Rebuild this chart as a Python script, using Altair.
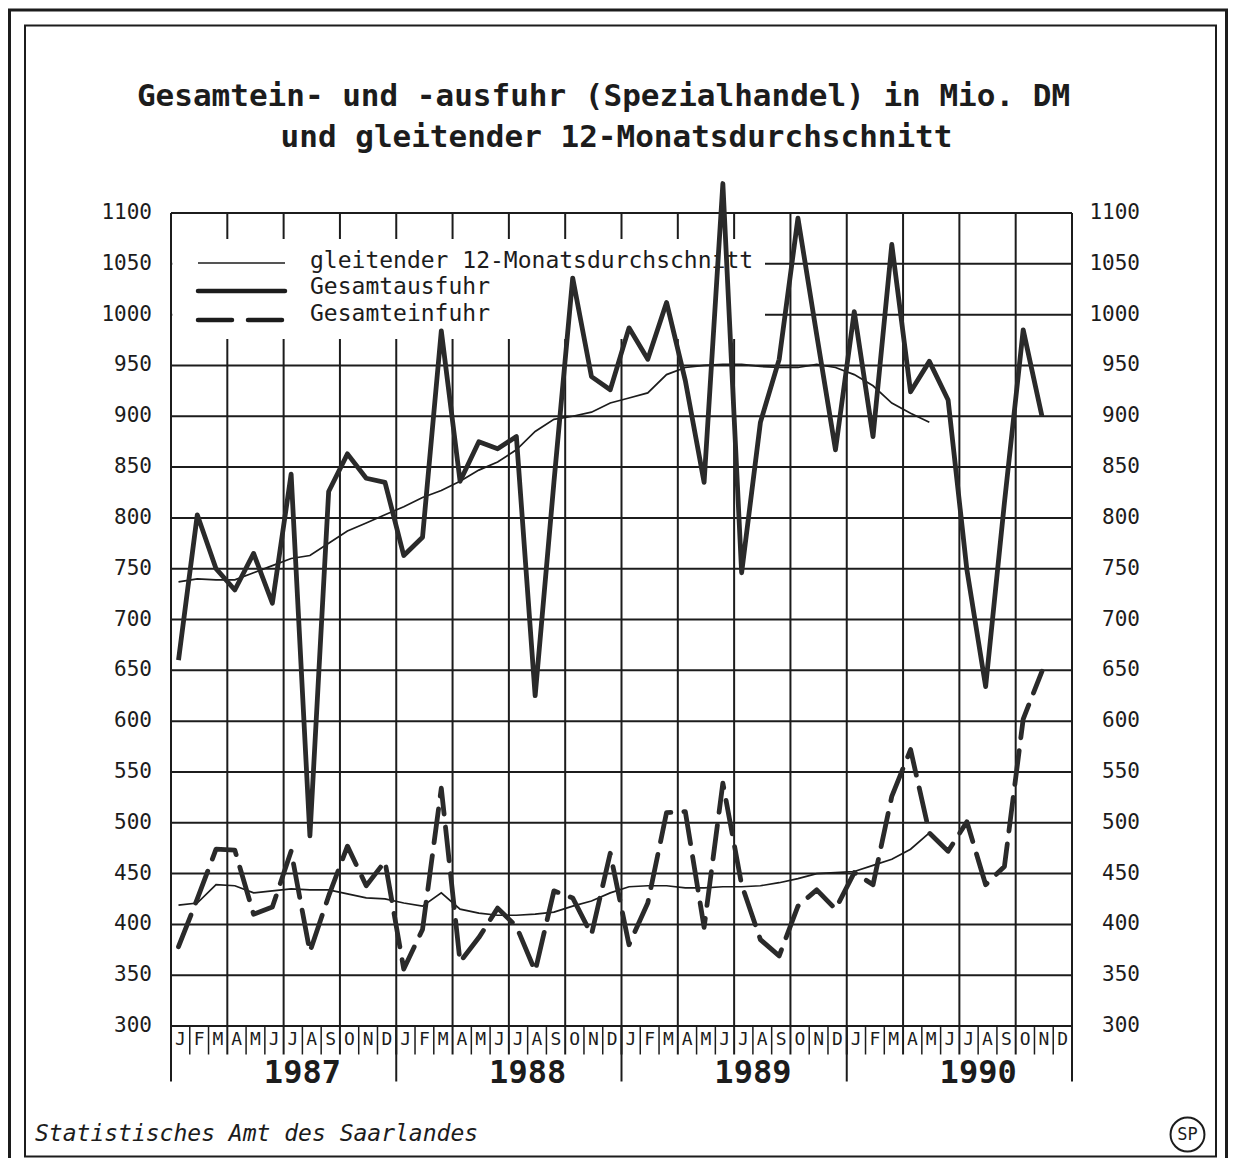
import altair as alt
import pandas as pd

# ---------------- data ----------------
month_letters = ["J", "F", "M", "A", "M", "J", "J", "A", "S", "O", "N", "D"]
years = ["1987", "1988", "1989", "1990"]
y_ticks = list(range(300, 1101, 50))

# Gesamtausfuhr, Jan 1987 .. Nov 1990 (Mio. DM)
ausfuhr = [660, 803, 750, 729, 765, 716, 843, 487, 826, 863, 839, 835,
           763, 781, 984, 836, 875, 868, 880, 625, 835, 1036, 939, 926,
           987, 956, 1012, 935, 835, 1129, 746, 894, 956, 1095, 980, 867,
           1003, 880, 1069, 924, 954, 916, 749, 634, 815, 985, 900]
# Gesamteinfuhr, Jan 1987 .. Nov 1990
einfuhr = [378, 425, 474, 473, 410, 417, 472, 373, 428, 477, 438, 462,
           356, 395, 534, 363, 387, 416, 398, 354, 433, 426, 390, 470,
           380, 421, 510, 511, 397, 539, 439, 385, 369, 418, 434, 415,
           451, 439, 526, 572, 490, 472, 501, 439, 457, 602, 649]
# gleitender 12-Monatsdurchschnitt, Jan 1987 .. May 1990
ma_ausfuhr = [737, 740, 739, 739, 746, 753, 760, 763, 775, 787, 795, 803,
              811, 820, 827, 836, 847, 855, 867, 885, 897, 900, 904, 913,
              918, 923, 941, 948, 950, 951, 951, 949, 948, 948, 951, 948,
              941, 930, 913, 903, 894]
ma_einfuhr = [419, 421, 439, 438, 431, 433, 435, 434, 434, 430, 426, 425,
              421, 418, 431, 415, 411, 409, 409, 410, 412, 418, 423, 431,
              437, 438, 438, 436, 436, 437, 437, 438, 441, 445, 450, 451,
              452, 458, 464, 474, 490]

legend_labels = ["gleitender 12-Monatsdurchschnitt", "Gesamtausfuhr", "Gesamteinfuhr"]
title_lines = ["Gesamtein- und -ausfuhr (Spezialhandel) in Mio. DM",
               "und gleitender 12-Monatsdurchschnitt"]
source = "Statistisches Amt des Saarlandes"

# ---------------- setup ----------------
W, H = 901, 813
FONT = "DejaVu Sans Mono"
INK = "#1c1c1c"
xs = alt.Scale(domain=[0, 48], nice=False, zero=False)
ys = alt.Scale(domain=[300, 1100], nice=False, zero=False)


def series_df(vals):
    return pd.DataFrame({"t": [i + 0.4 for i in range(len(vals))], "v": vals})


def one(text):
    return pd.DataFrame({"s": [text]})


X = lambda f: alt.X(f, scale=xs, axis=None)
Y = lambda f: alt.Y(f, scale=ys, axis=None)

layers = []

# horizontal grid
layers.append(alt.Chart(pd.DataFrame({"v": y_ticks})).mark_rule(color=INK, strokeWidth=2).encode(
    y=Y("v:Q"), x=alt.value(0), x2=alt.value(W)))

# vertical lines: quarters, month separators, years
quarters = pd.DataFrame({"k": list(range(0, 49, 3))})
layers.append(alt.Chart(quarters).mark_rule(color=INK, strokeWidth=2).encode(
    x=X("k:Q"), y=alt.value(0), y2=alt.value(841.5)))
msep = pd.DataFrame({"k": [k for k in range(1, 48) if k % 3 != 0]})
layers.append(alt.Chart(msep).mark_rule(color=INK, strokeWidth=1.5).encode(
    x=X("k:Q"), y=alt.value(H), y2=alt.value(841.5)))
ysep = pd.DataFrame({"k": list(range(0, 49, 12))})
layers.append(alt.Chart(ysep).mark_rule(color=INK, strokeWidth=2).encode(
    x=X("k:Q"), y=alt.value(H), y2=alt.value(868.5)))

# legend box (white) hides grid
layers.append(alt.Chart(one("")).mark_rect(fill="white").encode(
    x=alt.value(1.3), x2=alt.value(594), y=alt.value(26), y2=alt.value(126)))

# legend symbols
layers.append(alt.Chart(one("")).mark_rule(color=INK, strokeWidth=1.6).encode(
    x=alt.value(27), x2=alt.value(114), y=alt.value(50)))
layers.append(alt.Chart(one("")).mark_rule(color=INK, strokeWidth=4.5, strokeCap="round").encode(
    x=alt.value(27), x2=alt.value(114), y=alt.value(78)))
layers.append(alt.Chart(one("")).mark_rule(color=INK, strokeWidth=4.5, strokeCap="round",
                                           strokeDash=[34, 16]).encode(
    x=alt.value(27), x2=alt.value(114), y=alt.value(107)))
leg = pd.DataFrame({"s": legend_labels, "yy": [54.5, 81, 108]})
layers.append(alt.Chart(leg).mark_text(font=FONT, fontSize=23, align="left", baseline="alphabetic",
                                       color=INK).encode(
    x=alt.value(139), y=alt.Y("yy:Q", scale=None), text="s:N"))

# data lines
layers.append(alt.Chart(series_df(ma_ausfuhr)).mark_line(color=INK, strokeWidth=1.7).encode(
    x=X("t:Q"), y=Y("v:Q")))
layers.append(alt.Chart(series_df(ma_einfuhr)).mark_line(color=INK, strokeWidth=1.7).encode(
    x=X("t:Q"), y=Y("v:Q")))
layers.append(alt.Chart(series_df(einfuhr)).mark_line(color="#2a2a2a", strokeWidth=4.8, strokeDash=[34, 13],
                                                      strokeCap="round", strokeJoin="round").encode(
    x=X("t:Q"), y=Y("v:Q")))
layers.append(alt.Chart(series_df(ausfuhr)).mark_line(color="#2a2a2a", strokeWidth=4.8,
                                                      strokeJoin="round").encode(
    x=X("t:Q"), y=Y("v:Q")))

# y-axis labels left & right
tick_df = pd.DataFrame({"v": y_ticks})
layers.append(alt.Chart(tick_df).mark_text(font=FONT, fontSize=21, align="right", baseline="middle",
                                           color=INK).encode(
    x=alt.value(-19), y=Y("v:Q"), text="v:Q"))
layers.append(alt.Chart(tick_df).mark_text(font=FONT, fontSize=21, align="right", baseline="middle",
                                           color=INK).encode(
    x=alt.value(969), y=Y("v:Q"), text="v:Q"))

# month letters
mdf = pd.DataFrame({"k": [i + 0.5 for i in range(48)], "m": month_letters * 4})
layers.append(alt.Chart(mdf).mark_text(font=FONT, fontSize=18, align="center", baseline="middle",
                                       color=INK).encode(
    x=X("k:Q"), y=alt.value(826.5), text="m:N"))
# years
ydf = pd.DataFrame({"k": [7, 19, 31, 43], "y": years})
layers.append(alt.Chart(ydf).mark_text(font=FONT, fontSize=32, fontWeight="bold", align="center",
                                       baseline="alphabetic", color=INK).encode(
    x=X("k:Q"), y=alt.value(870), text="y:N"))

# title
tdf = pd.DataFrame({"s": title_lines, "xx": [432.5, 445.5], "yy": [-107.5, -66]})
layers.append(alt.Chart(tdf).mark_text(font=FONT, fontSize=31, fontWeight="bold", align="center",
                                       baseline="alphabetic", color=INK).encode(
    x=alt.X("xx:Q", scale=None), y=alt.Y("yy:Q", scale=None), text="s:N"))

# source
layers.append(alt.Chart(one(source)).mark_text(font=FONT, fontSize=23, fontStyle="italic", align="left",
                                               baseline="alphabetic", color=INK).encode(
    x=alt.value(-136), y=alt.value(928), text="s:N"))
# SP logo
layers.append(alt.Chart(one("")).mark_point(shape="circle", filled=False, size=1150, color=INK,
                                            strokeWidth=2, opacity=1).encode(
    x=alt.value(1016.5), y=alt.value(921.5)))
layers.append(alt.Chart(one("SP")).mark_text(font=FONT, fontSize=17, align="center", baseline="middle",
                                             color=INK).encode(
    x=alt.value(1016.5), y=alt.value(921.5), text="s:N"))

# frames
layers.append(alt.Chart(one("")).mark_rect(fillOpacity=0, stroke=INK, strokeWidth=2).encode(
    x=alt.value(-146), x2=alt.value(1045), y=alt.value(-187.5), y2=alt.value(943.5)))
layers.append(alt.Chart(one("")).mark_rect(fillOpacity=0, stroke=INK, strokeWidth=3).encode(
    x=alt.value(-161.5), x2=alt.value(1055.5), y=alt.value(-203), y2=alt.value(990)))

chart = alt.layer(*layers).properties(
    width=W, height=H,
    autosize=alt.AutoSizeParams(type="none"),
    padding={"left": 163, "top": 205, "right": 157, "bottom": 132},
    background="white",
).configure_view(stroke=None)

chart.save("out.html", embed_options={"renderer": "svg", "actions": False})
